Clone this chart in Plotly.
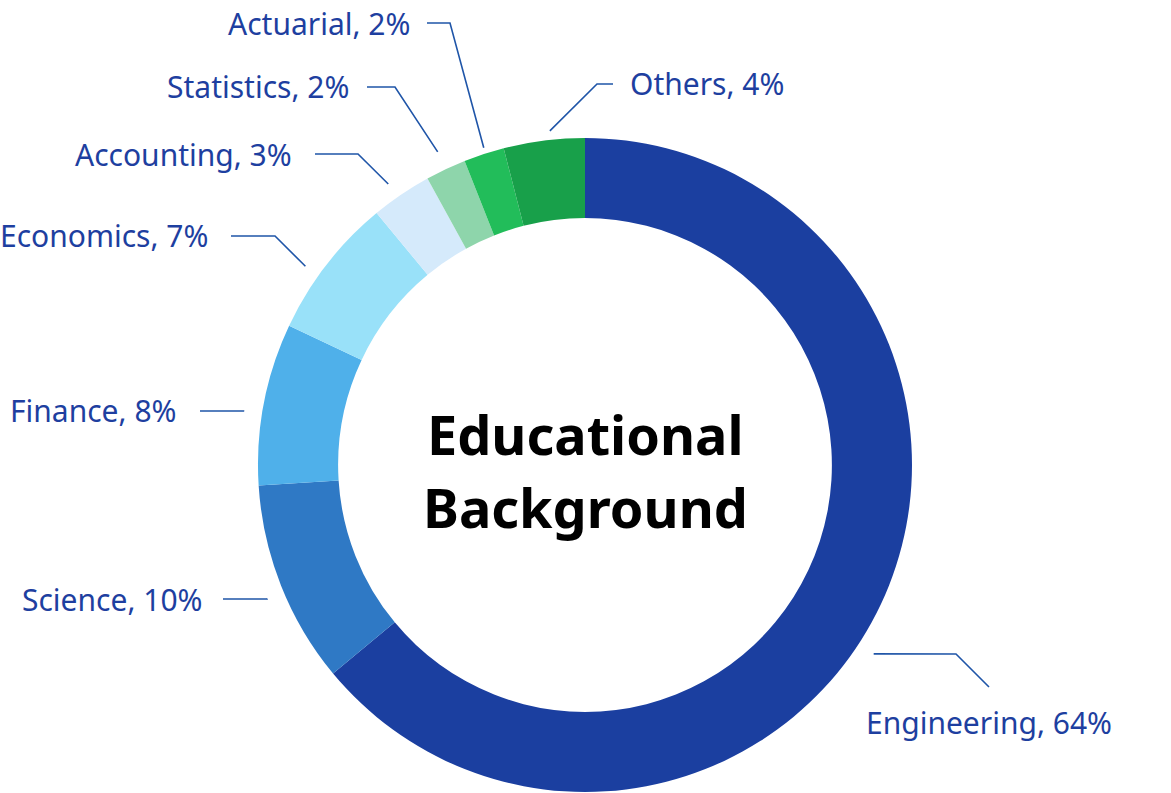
import math
import plotly.graph_objects as go

# ---- data ----
categories = ["Engineering", "Science", "Finance", "Economics", "Accounting",
              "Statistics", "Actuarial", "Others"]
values = [64, 10, 8, 7, 3, 2, 2, 4]
colors = ["#1B3FA0", "#2F79C5", "#4FB0EA", "#99E1F9", "#D5EAFB",
          "#8ED5AB", "#22BD5A", "#18A04A"]
center_title = ["Educational", "Background"]

# ---- layout constants (pixels) ----
W, H = 1171, 793
CX, CY, R_OUT = 585, 465, 327
HOLE = 0.755
LABEL_COLOR = "#1E3FA0"
LINE_COLOR = "#1F55A8"
FONT = "Noto Sans"
LABEL_SIZE = 30

# per-label leader layout: angle nudge (deg), start radius, elbow (x,y), end (x,y), text pos, anchor
leader_layout = {
    "Engineering": dict(nudge=8.0, r=345, elbow=(956, 654), end=(989, 687), text=(989, 722), anchor="center"),
    "Science": dict(nudge=-1.2, r=345, elbow=(267, 599), end=(223, 599), text=(204, 599), anchor="right"),
    "Finance": dict(nudge=-1.8, r=345, elbow=(244, 411), end=(200, 411), text=(178, 411), anchor="right"),
    "Economics": dict(nudge=-2.4, r=343, elbow=(275, 236), end=(231, 236), text=(210, 236), anchor="right"),
    "Accounting": dict(nudge=-0.8, r=343, elbow=(358, 154), end=(315, 154), text=(294, 154), anchor="right"),
    "Statistics": dict(nudge=0.0, r=346, elbow=(395, 87), end=(367, 87), text=(351, 87), anchor="right"),
    "Actuarial": dict(nudge=0.3, r=333, elbow=(450, 23), end=(427, 23), text=(412, 23), anchor="right"),
    "Others": dict(nudge=1.2, r=336, elbow=(597, 84), end=(613, 84), text=(628, 84), anchor="left"),
}
title_rows_y = [434, 507]
TITLE_SIZE = 54


def px(x):
    return x / W


def py(y):
    return 1 - y / H


fig = go.Figure(go.Pie(
    labels=categories,
    values=values,
    hole=HOLE,
    sort=False,
    direction="clockwise",
    rotation=0,
    marker=dict(colors=colors, line=dict(width=0)),
    textinfo="none",
    hoverinfo="label+percent",
    domain=dict(x=[px(CX - R_OUT), px(CX + R_OUT)],
                y=[py(CY + R_OUT), py(CY - R_OUT)]),
    showlegend=False,
))

total = sum(values)
shapes = []
annotations = []
cum = 0
for cat, val in zip(categories, values):
    mid = (cum + val / 2) / total * 360.0
    cum += val
    lay = leader_layout[cat]
    ang = math.radians(mid + lay["nudge"])
    sx = CX + lay["r"] * math.sin(ang)
    sy = CY - lay["r"] * math.cos(ang)
    ex, ey = lay["elbow"]
    fx, fy = lay["end"]
    path = f"M {px(sx)},{py(sy)} L {px(ex)},{py(ey)} L {px(fx)},{py(fy)}"
    shapes.append(dict(type="path", path=path, xref="paper", yref="paper",
                       line=dict(color=LINE_COLOR, width=1.6)))
    tx, ty = lay["text"]
    annotations.append(dict(
        x=px(tx), y=py(ty), xref="paper", yref="paper",
        text=f"{cat}, {val}%", showarrow=False,
        xanchor=lay["anchor"], yanchor="middle",
        font=dict(family=FONT, size=LABEL_SIZE, color=LABEL_COLOR),
    ))

for row, ry in zip(center_title, title_rows_y):
    annotations.append(dict(
        x=px(CX), y=py(ry), xref="paper", yref="paper",
        text=f"<b>{row}</b>", showarrow=False,
        xanchor="center", yanchor="middle",
        font=dict(family=FONT, size=TITLE_SIZE, color="#000000"),
    ))

fig.update_layout(
    width=W, height=H,
    margin=dict(l=0, r=0, t=0, b=0),
    paper_bgcolor="white", plot_bgcolor="white",
    shapes=shapes, annotations=annotations,
)

fig.write_html("out.html")
